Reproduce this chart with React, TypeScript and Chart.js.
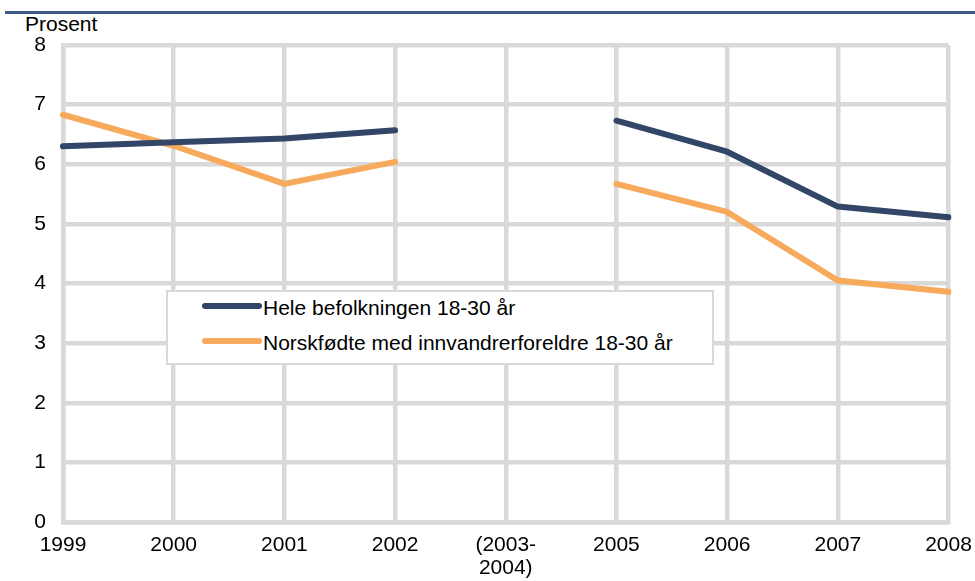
import React, { useEffect, useRef } from "react";
import { Chart, registerables } from "chart.js";

Chart.register(...registerables);

const categories: (string | string[])[] = ["1999", "2000", "2001", "2002", ["(2003-", "2004)"], "2005", "2006", "2007", "2008"];
const heleBefolkningen: (number | null)[] = [6.3, 6.37, 6.43, 6.57, null, 6.73, 6.21, 5.29, 5.11];
const norskfodte: (number | null)[] = [6.83, 6.31, 5.67, 6.04, null, 5.67, 5.2, 4.05, 3.86];
const yTicks = [0, 1, 2, 3, 4, 5, 6, 7, 8];
const seriesNames = ["Hele befolkningen 18-30 år", "Norskfødte med innvandrerforeldre 18-30 år"];
const seriesColors = ["#324668", "#f7a95c"];
const font = "'Liberation Sans', Arial, Helvetica, sans-serif";

export default function App() {
  const ref = useRef<HTMLCanvasElement>(null);
  useEffect(() => {
    if (!ref.current) return;
    const chart = new Chart(ref.current, {
      type: "line",
      data: {
        labels: categories as any,
        datasets: [
          { label: seriesNames[0], data: heleBefolkningen, borderColor: seriesColors[0], borderWidth: 6, pointRadius: 0, spanGaps: false, borderCapStyle: "round", borderJoinStyle: "round", tension: 0 },
          { label: seriesNames[1], data: norskfodte, borderColor: seriesColors[1], borderWidth: 6, pointRadius: 0, spanGaps: false, borderCapStyle: "round", borderJoinStyle: "round", tension: 0 },
        ],
      },
      options: {
        responsive: false,
        animation: false,
        layout: { padding: { top: 45, right: 26.5, left: 0, bottom: 0 } },
        plugins: { legend: { display: false }, tooltip: { enabled: false }, title: { display: false } },
        scales: {
          x: {
            offset: false,
            grid: { color: "#d9d9d9", lineWidth: 4.5, drawTicks: false },
            border: { color: "#d9d9d9", width: 4.5 },
            ticks: { color: "#000", font: { family: font, size: 21, lineHeight: 1.1 }, padding: 12, maxRotation: 0, autoSkip: false },
            afterFit: (s: any) => { s.height = 59; s.paddingLeft = 0; s.paddingRight = 0; },
          },
          y: {
            min: 0,
            max: 8,
            afterBuildTicks: (s: any) => { s.ticks = yTicks.map((v) => ({ value: v })); },
            grid: { color: "#d9d9d9", lineWidth: 4.5, drawTicks: false },
            border: { color: "#d9d9d9", width: 4.5 },
            ticks: { color: "#000", font: { family: font, size: 21 }, padding: 17 },
            afterFit: (s: any) => { s.width = 63; s.paddingTop = 0; s.paddingBottom = 0; },
          },
        },
      },
    });
    return () => chart.destroy();
  }, []);

  return (
    <div style={{ position: "fixed", left: 0, top: 0, width: 975, height: 581, background: "#fff", fontFamily: font }}>
      <div style={{ position: "absolute", left: 5, top: 11, width: 970, height: 3, background: "#3d5a88" }} />
      <div style={{ position: "absolute", left: 25, top: 12, fontSize: 21, lineHeight: "24px", color: "#000" }}>Prosent</div>
      <canvas ref={ref} width={975} height={581} style={{ position: "absolute", left: 0, top: 0 }} />
      <div
        style={{
          position: "absolute",
          left: 166,
          top: 290,
          width: 544,
          height: 71,
          background: "#fff",
          border: "2px solid #d9d9d9",
          boxSizing: "content-box",
        }}
      >
        {seriesNames.map((name, i) => (
          <div key={name} style={{ position: "absolute", left: 34, top: 2 + i * 35, height: 28, display: "flex", alignItems: "center" }}>
            <div style={{ width: 60, height: 6, borderRadius: 3, background: seriesColors[i], transform: "translateY(-2px)" }} />
            <span style={{ fontSize: 21, color: "#000", marginLeft: 1 }}>{name}</span>
          </div>
        ))}
      </div>
    </div>
  );
}
